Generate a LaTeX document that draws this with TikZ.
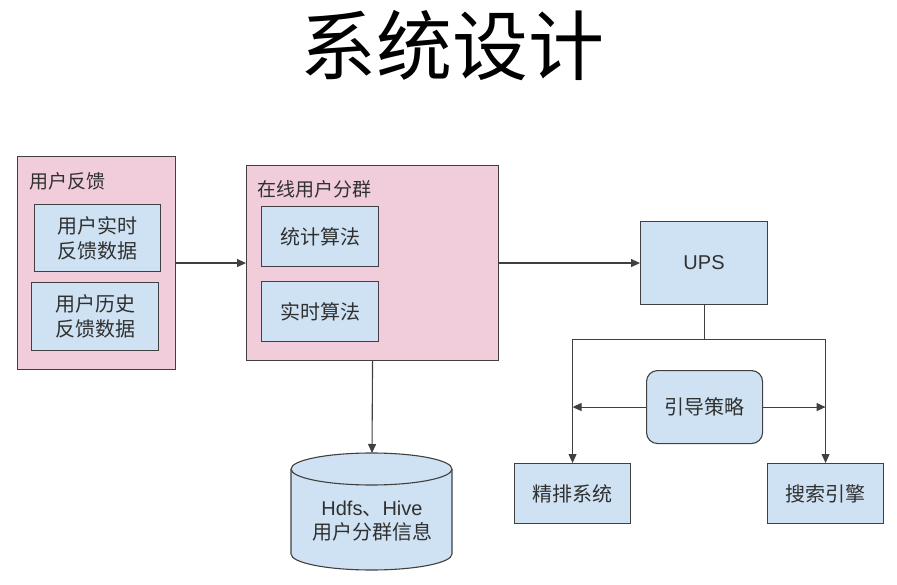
\documentclass[tikz,border=0pt]{standalone}
\usepackage{fontspec}
\setmainfont{Noto Sans CJK SC}
\newfontfamily\latinsf{Liberation Sans}
\usetikzlibrary{arrows.meta}
\definecolor{grppink}{HTML}{F1CDDB}
\definecolor{boxblue}{HTML}{CFE2F3}
\definecolor{lineg}{HTML}{404040}
\definecolor{txtg}{HTML}{303030}

\tikzset{
  group/.style={draw=lineg,line width=1.1pt,fill=grppink,inner sep=0pt,anchor=north west},
  part/.style={draw=lineg,line width=1.1pt,fill=boxblue,inner sep=0pt,anchor=north west,
    align=center,text=txtg,font=\fontsize{20}{25}\selectfont},
  grplabel/.style={anchor=west,inner sep=0pt,text=txtg,font=\fontsize{19}{23}\selectfont},
  arr/.style={draw=lineg,line width=1.1pt,-{Triangle[length=9pt,width=8pt]}},
  link/.style={draw=lineg,line width=1.1pt}
}

\begin{document}
\begin{tikzpicture}[x=1pt,y=-1pt]
  \useasboundingbox (0,0) rectangle (897,585);
  \node[font=\fontsize{76}{80}\selectfont] (title) at (452,46) {系统设计};

  % feedback group
  \node[group,minimum width=158pt,minimum height=213pt] (fb) at (17,156) {};
  \node[grplabel] (fbt) at (29,181) {用户反馈};
  \node[part,minimum width=126pt,minimum height=67pt] (rtfb) at (34,204) {用户实时\\反馈数据};
  \node[part,minimum width=127pt,minimum height=68pt] (hsfb) at (31,282) {用户历史\\反馈数据};

  % online clustering group
  \node[group,minimum width=252pt,minimum height=195pt] (ol) at (246,165) {};
  \node[grplabel] (olt) at (257,189) {在线用户分群};
  \node[part,minimum width=117pt,minimum height=60pt] (stat) at (261,206) {统计算法};
  \node[part,minimum width=117pt,minimum height=60pt] (rtalg) at (261,281) {实时算法};

  \node[part,minimum width=127pt,minimum height=83pt] (ups) at (640,221) {\latinsf UPS};
  \node[part,minimum width=116pt,minimum height=60pt] (jp) at (514,463) {精排系统};
  \node[part,minimum width=116pt,minimum height=60pt] (ss) at (767,463) {搜索引擎};
  \node[part,minimum width=116pt,minimum height=73pt,rounded corners=11pt] (gd) at (646,370) {引导策略};

  % storage cylinder
  \def\cx{80.5}
  \def\cy{16}
  \filldraw[draw=lineg,line width=1.1pt,fill=boxblue] (291,469) -- (291,554)
    arc[start angle=180,end angle=0,x radius=\cx,y radius=\cy] -- (452,469)
    arc[start angle=0,end angle=-180,x radius=\cx,y radius=\cy] -- cycle;
  \draw[lineg,line width=1.1pt] (291,469) arc[start angle=180,end angle=0,x radius=\cx,y radius=\cy];
  \coordinate (dbtop) at (372,453);
  \node[align=center,text=txtg,font=\fontsize{20}{24}\selectfont] (db) at (372,521)
    {{\latinsf Hdfs}、{\latinsf Hive}\\用户分群信息};

  \draw[arr] (fb.east) -- (ol.west);
  \draw[arr] (ol.east) -- (ups.west);
  \draw[arr] (ol.south) -- (dbtop);
  \draw[link] (ups.south) -- ++(0,34) coordinate (fork);
  \draw[arr] (fork) -| (jp.north);
  \draw[arr] (fork) -| (ss.north);
  \draw[arr] (gd.west) -- (gd.west -| jp.north);
  \draw[arr] (gd.east) -- (gd.east -| ss.north);
\end{tikzpicture}
\end{document}
